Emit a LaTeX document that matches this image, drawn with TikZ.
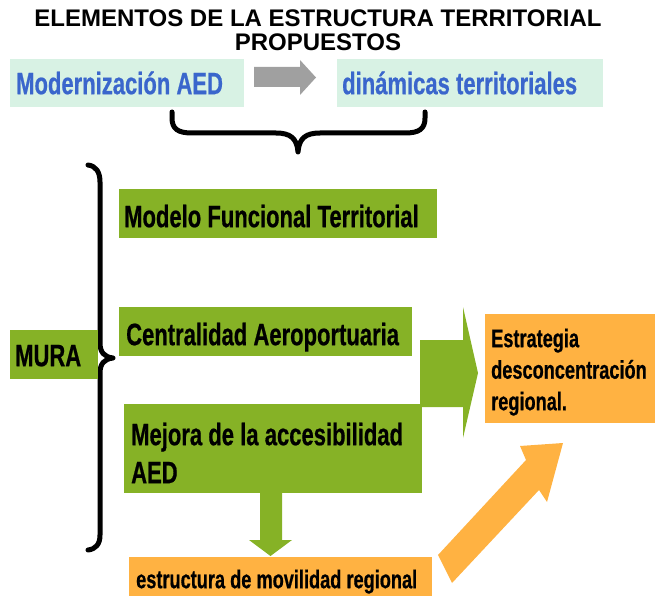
\documentclass[tikz,border=0pt]{standalone}
\usepackage{fontspec}
\newfontfamily\arialf{Liberation Sans}
\newfontfamily\narrowf[FakeStretch=0.71,FakeBold=0.6]{Liberation Sans}
\newcommand{\narrowspace}{\spaceskip=0.2em plus 0.05em minus 0.02em\relax\xspaceskip=0.2em\relax}
\newcommand{\titlespace}{\spaceskip=0.278em\relax\xspaceskip=0.278em\relax}
\definecolor{grn}{HTML}{86B226}
\definecolor{org}{HTML}{FFB242}
\definecolor{mint}{HTML}{D8F2E4}
\definecolor{blu}{HTML}{3A66CC}
\definecolor{gry}{HTML}{A0A0A0}
\tikzset{
  boxbase/.style={draw=none, inner ysep=0pt, align=left, anchor=north west, execute at begin node=\narrowspace},
  greenbox/.style={boxbase, fill=grn, text=black, font=\narrowf\bfseries\fontsize{31}{38}\selectfont},
  mintbox/.style={boxbase, fill=mint, text=blu, font=\narrowf\bfseries\fontsize{31}{38}\selectfont},
  orangebox/.style={boxbase, fill=org, text=black, font=\narrowf\bfseries\fontsize{25.6}{31.5}\selectfont},
  bracepath/.style={draw=black, line width=5pt, line cap=round, line join=round},
}
\begin{document}
\begin{tikzpicture}[x=1pt,y=-1pt]
\useasboundingbox (0,0) rectangle (655,596);
% title
\node[anchor=base, text width=620pt, align=center, inner sep=0pt, execute at begin node=\titlespace,
      font=\arialf\bfseries\fontsize{24}{24}\selectfont] (title) at (318,27)
  {ELEMENTOS DE LA ESTRUCTURA TERRITORIAL\\PROPUESTOS};
% top boxes
\node[mintbox, inner xsep=6pt, text width=222pt, text height=35pt, text depth=13pt] (mod) at (10,59)
  {\mbox{Modernización AED}};
\node[mintbox, inner xsep=5pt, text width=256pt, text height=35pt, text depth=13pt] (din) at (337,59)
  {\mbox{dinámicas territoriales}};
% gray arrow
\fill[gry] (254,67) -- (300,67) -- (300,60) -- (316,77.5) -- (300,95) -- (300,87) -- (254,87) -- cycle;
% horizontal brace
\draw[bracepath] (172,112) -- (172,118) .. controls (172,129) and (178,133) .. (192,133)
  -- (276,133) .. controls (290,133) and (297,138) .. (298,152)
  .. controls (299,138) and (306,133) .. (320,133)
  -- (405,133) .. controls (419,133) and (425,129) .. (425,118) -- (425,112);
% vertical brace
\draw[bracepath] (88,165) .. controls (96,166) and (100,172) .. (100,182)
  -- (100,343) .. controls (100,352) and (104,357) .. (113,358)
  .. controls (104,359) and (100,364) .. (100,373)
  -- (100,535) .. controls (100,544) and (96,549) .. (88,550);
% green right arrow
\fill[grn] (420,340) -- (463,340) -- (463,307) -- (478,373) -- (463,438) -- (463,407) -- (420,407) -- cycle;
% green boxes
\node[greenbox, inner xsep=5pt, text width=308pt, text height=38pt, text depth=11pt] (modelo) at (119,189)
  {\mbox{Modelo Funcional Territorial}};
\node[greenbox, inner xsep=7pt, text width=279pt, text height=38pt, text depth=11pt] (central) at (119,307)
  {\mbox{Centralidad Aeroportuaria}};
\node[greenbox, inner xsep=7pt, text width=284pt, text height=41pt, text depth=48pt] (mejora) at (124,404)
  {\mbox{Mejora de la accesibilidad}\\\mbox{AED}};
\node[greenbox, inner xsep=5pt, text width=78pt, text height=36pt, text depth=13pt] (mura) at (10,330)
  {\mbox{MURA}};
% green down arrow
\fill[grn] (260,492) -- (282,492) -- (282,540) -- (292,540) -- (270.5,556) -- (249,540) -- (260,540) -- cycle;
% orange boxes
\node[orangebox, inner xsep=6pt, text width=158pt, text height=33pt, text depth=76pt] (estr) at (485,314)
  {\mbox{Estrategia}\\\mbox{desconcentración}\\\mbox{regional.}};
\node[orangebox, inner xsep=7pt, text width=289pt, text height=31pt, text depth=8pt] (movil) at (129,557)
  {\mbox{estructura de movilidad regional}};
% orange diagonal arrow
\fill[org] (438,555) -- (526,460) -- (520,446) -- (563,443) -- (547,502) -- (539,490) -- (452,583) -- cycle;
\end{tikzpicture}
\end{document}
